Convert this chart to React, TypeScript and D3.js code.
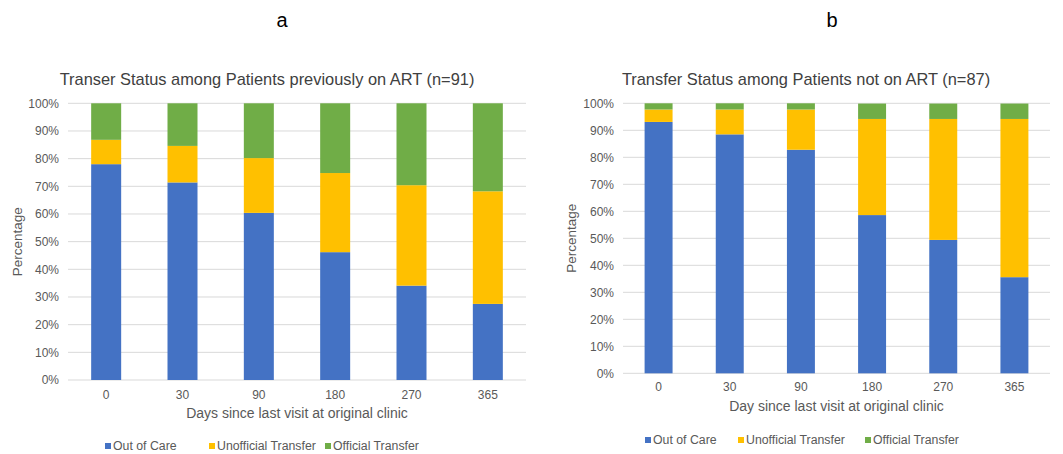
import React, { useEffect, useRef } from "react";
import * as d3 from "d3";

const days = ["0", "30", "90", "180", "270", "365"];
const seriesNames = ["Out of Care", "Unofficial Transfer", "Official Transfer"];
const yTicks = [0, 10, 20, 30, 40, 50, 60, 70, 80, 90, 100];

// panel a: previously on ART (n=91), percent
const outOfCareA = [78.0, 71.4, 60.4, 46.2, 34.1, 27.5];
const unofficialA = [8.8, 13.2, 19.8, 28.6, 36.3, 40.7];
const officialA = [13.2, 15.4, 19.8, 25.3, 29.7, 31.9];

// panel b: not on ART (n=87), percent
const outOfCareB = [93.1, 88.5, 82.8, 58.6, 49.4, 35.6];
const unofficialB = [4.6, 9.2, 14.9, 35.6, 44.8, 58.6];
const officialB = [2.3, 2.3, 2.3, 5.7, 5.7, 5.7];

const colors = ["#4472C4", "#FFC000", "#70AD47"];
const FONT = "'Liberation Sans', Arial, Helvetica, sans-serif";

type Panel = {
  letter: string;
  letterX: number;
  title: string;
  titleX: number;
  xTitle: string;
  left: number;
  right: number;
  top: number;
  bottom: number;
  tickY: number;
  xTitleY: number;
  yTitleX: number;
  legendY: number;
  legendX: number[];
  series: number[][];
};

const panels: Panel[] = [
  {
    letter: "a",
    letterX: 282,
    title: "Transer Status among Patients previously on ART (n=91)",
    titleX: 267,
    xTitle: "Days since last visit at original clinic",
    left: 68,
    right: 526,
    top: 103.3,
    bottom: 380,
    tickY: 399,
    xTitleY: 418,
    yTitleX: 22,
    legendY: 446,
    legendX: [105, 209, 325],
    series: [outOfCareA, unofficialA, officialA],
  },
  {
    letter: "b",
    letterX: 832,
    title: "Transfer Status among Patients not on ART (n=87)",
    titleX: 806,
    xTitle: "Day since last visit at original clinic",
    left: 623,
    right: 1050,
    top: 103.3,
    bottom: 373.3,
    tickY: 391,
    xTitleY: 411,
    yTitleX: 576,
    legendY: 440,
    legendX: [645, 738, 865],
    series: [outOfCareB, unofficialB, officialB],
  },
];

export default function App() {
  const ref = useRef<SVGSVGElement>(null);

  useEffect(() => {
    const svg = d3.select(ref.current);
    svg.selectAll("*").remove();

    panels.forEach((p) => {
      const g = svg.append("g");

      const x = d3
        .scaleBand()
        .domain(days)
        .range([p.left, p.right])
        .paddingInner(0.607)
        .paddingOuter(0.3035);
      const y = d3.scaleLinear().domain([0, 100]).range([p.bottom, p.top]);

      // panel letter and title
      g.append("text")
        .attr("x", p.letterX)
        .attr("y", 27)
        .attr("text-anchor", "middle")
        .style("font-family", FONT)
        .style("font-size", "20px")
        .attr("fill", "#000")
        .text(p.letter);

      g.append("text")
        .attr("x", p.titleX)
        .attr("y", 85)
        .attr("text-anchor", "middle")
        .style("font-family", FONT)
        .style("font-size", "16.4px")
        .attr("fill", "#404040")
        .text(p.title);

      // gridlines
      g.selectAll(".grid")
        .data(yTicks)
        .join("line")
        .attr("x1", p.left)
        .attr("x2", p.right)
        .attr("y1", (d) => y(d))
        .attr("y2", (d) => y(d))
        .attr("stroke", "#D9D9D9")
        .attr("stroke-width", 1);

      // y tick labels
      g.selectAll(".ytick")
        .data(yTicks)
        .join("text")
        .attr("x", p.left - 9)
        .attr("y", (d) => y(d))
        .attr("dy", "0.35em")
        .attr("text-anchor", "end")
        .style("font-family", FONT)
        .style("font-size", "12px")
        .attr("fill", "#595959")
        .text((d) => d + "%");

      // stacked bars
      const rows = days.map((day, i) => {
        const r: Record<string, any> = { day };
        seriesNames.forEach((s, k) => (r[s] = p.series[k][i]));
        return r;
      });
      const stacked = d3.stack<any>().keys(seriesNames)(rows);

      g.selectAll(".layer")
        .data(stacked)
        .join("g")
        .attr("fill", (_, k) => colors[k])
        .selectAll("rect")
        .data((d) => d)
        .join("rect")
        .attr("x", (d) => x(d.data.day)!)
        .attr("width", x.bandwidth())
        .attr("y", (d) => y(Math.min(d[1], 100)))
        .attr("height", (d) => y(d[0]) - y(Math.min(d[1], 100)));

      // x tick labels
      g.selectAll(".xtick")
        .data(days)
        .join("text")
        .attr("x", (d) => x(d)! + x.bandwidth() / 2)
        .attr("y", p.tickY)
        .attr("text-anchor", "middle")
        .style("font-family", FONT)
        .style("font-size", "12px")
        .attr("fill", "#595959")
        .text((d) => d);

      // axis titles
      g.append("text")
        .attr("x", (p.left + p.right) / 2)
        .attr("y", p.xTitleY)
        .attr("text-anchor", "middle")
        .style("font-family", FONT)
        .style("font-size", "14px")
        .attr("fill", "#595959")
        .text(p.xTitle);

      g.append("text")
        .attr("transform", `translate(${p.yTitleX},${(p.top + p.bottom) / 2}) rotate(-90)`)
        .attr("text-anchor", "middle")
        .style("font-family", FONT)
        .style("font-size", "13.5px")
        .attr("fill", "#595959")
        .text("Percentage");

      // legend
      const leg = g
        .selectAll(".leg")
        .data(seriesNames)
        .join("g")
        .attr("transform", (_, k) => `translate(${p.legendX[k]},${p.legendY})`);
      leg
        .append("rect")
        .attr("x", 0)
        .attr("y", -3)
        .attr("width", 6)
        .attr("height", 6)
        .attr("fill", (_, k) => colors[k]);
      leg
        .append("text")
        .attr("x", 8)
        .attr("y", 0)
        .attr("dy", "0.35em")
        .style("font-family", FONT)
        .style("font-size", "12.3px")
        .attr("fill", "#595959")
        .text((d) => d);
    });
  }, []);

  return (
    <svg
      ref={ref}
      width={1063}
      height={454}
      style={{ position: "absolute", left: 0, top: 0, background: "#fff" }}
    ></svg>
  );
}
